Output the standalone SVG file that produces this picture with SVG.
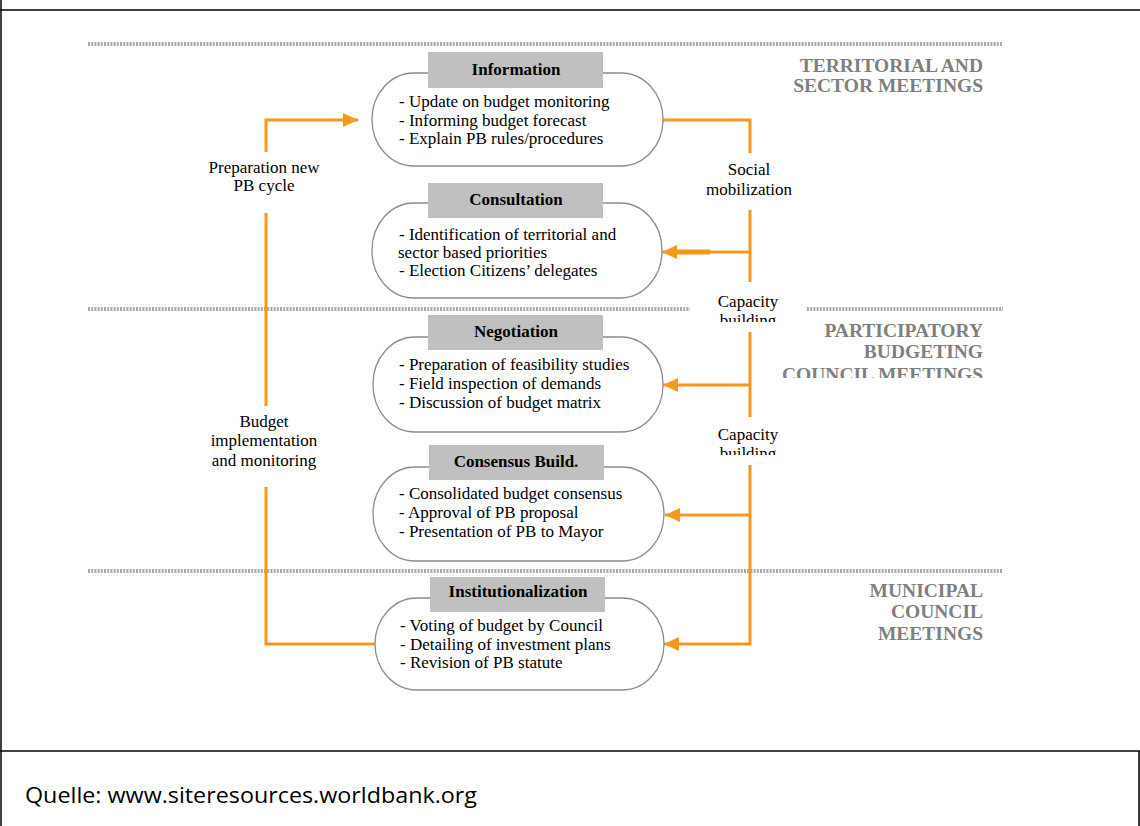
<svg xmlns="http://www.w3.org/2000/svg" width="1140" height="826" viewBox="0 0 1140 826">
<defs>
<style>
.frame{stroke:#000;stroke-width:1.5;fill:none}
.dots{stroke:#a8a8a8;stroke-width:4;stroke-dasharray:2 1.2;fill:none}
.pill{fill:#fff;stroke:#8c8c8c;stroke-width:1.3}
.hdr{fill:#c0c0c0}
.ht{font-family:"Liberation Serif",serif;font-weight:bold;font-size:17px;fill:#000;text-anchor:middle}
.bt{font-family:"Liberation Serif",serif;font-size:17px;fill:#000}
.lab{font-family:"Liberation Serif",serif;font-size:17px;fill:#000;text-anchor:middle}
.sec{font-family:"Liberation Serif",serif;font-weight:bold;font-size:19.5px;fill:#7f7f7f;text-anchor:end}
.con{stroke:#F7981D;stroke-width:3;fill:none}
.src{font-family:"Open Sans","Liberation Sans",sans-serif;font-size:22px;fill:#000}
</style>
<marker id="ah" markerWidth="16" markerHeight="14" refX="15" refY="7" orient="auto" markerUnits="userSpaceOnUse">
<path d="M0,0 L15,7 L0,14 Z" fill="#F7981D"/>
</marker>
<clipPath id="c1"><rect x="690" y="285" width="120" height="37"/></clipPath>
<clipPath id="c2"><rect x="690" y="420" width="120" height="35"/></clipPath>
<clipPath id="c3"><rect x="780" y="315" width="230" height="63"/></clipPath>
</defs>
<rect width="1140" height="826" fill="#fff"/>
<g id="frame">
<line class="frame" x1="0" y1="10" x2="1140" y2="10"/>
<line class="frame" x1="1" y1="0" x2="1" y2="826"/>
<line class="frame" x1="0" y1="751" x2="1140" y2="751"/>
<line class="frame" x1="1139" y1="751" x2="1139" y2="826"/>
</g>
<g id="dividers">
<line class="dots" x1="88" y1="44" x2="1003" y2="44"/>
<line class="dots" x1="88" y1="309" x2="690" y2="309"/>
<line class="dots" x1="807" y1="309" x2="1003" y2="309"/>
<line class="dots" x1="88" y1="571" x2="1003" y2="571"/>
</g>
<g id="sections">
<text class="sec" x="983" y="72">TERRITORIAL AND</text>
<text class="sec" x="983" y="92">SECTOR MEETINGS</text>
<text class="sec" x="983" y="337">PARTICIPATORY</text>
<text class="sec" x="983" y="358">BUDGETING</text>
<text class="sec" x="983" y="381" clip-path="url(#c3)">COUNCIL MEETINGS</text>
<text class="sec" x="983" y="597">MUNICIPAL</text>
<text class="sec" x="983" y="618">COUNCIL</text>
<text class="sec" x="983" y="640">MEETINGS</text>
</g>
<g id="connectors">
<polyline class="con" points="266,152 266,120 358,120" marker-end="url(#ah)"/>
<line class="con" x1="266" y1="213" x2="266" y2="406"/>
<polyline class="con" points="266,487 266,644 375,644"/>
<polyline class="con" points="663,120 750,120 750,153"/>
<line class="con" x1="750" y1="210" x2="750" y2="282"/>
<line class="con" x1="750" y1="252" x2="662" y2="252" marker-end="url(#ah)"/>
<rect x="670" y="249.5" width="40" height="5" fill="#F7981D"/>
<line class="con" x1="750" y1="332" x2="750" y2="417"/>
<line class="con" x1="750" y1="385" x2="663" y2="385" marker-end="url(#ah)"/>
<polyline class="con" points="750,465 750,644 664,644" marker-end="url(#ah)"/>
<line class="con" x1="750" y1="515" x2="665" y2="515" marker-end="url(#ah)"/>
</g>
<g id="connector-labels">
<text class="lab" x="264" y="173">Preparation new</text>
<text class="lab" x="264" y="191">PB cycle</text>
<text class="lab" x="264" y="427">Budget</text>
<text class="lab" x="264" y="446">implementation</text>
<text class="lab" x="264" y="466">and monitoring</text>
<text class="lab" x="749" y="175">Social</text>
<text class="lab" x="749" y="195">mobilization</text>
<g clip-path="url(#c1)">
<text class="lab" x="748" y="307">Capacity</text>
<text class="lab" x="748" y="326">building</text>
</g>
<g clip-path="url(#c2)">
<text class="lab" x="748" y="440">Capacity</text>
<text class="lab" x="748" y="459">building</text>
</g>
</g>
<g id="node-information">
<rect class="pill" x="372" y="73" width="291" height="93" rx="42" ry="46"/>
<rect class="hdr" x="428" y="52" width="175" height="36"/>
<text class="ht" x="516" y="75">Information</text>
<text class="bt" x="399" y="107">- Update on budget monitoring</text>
<text class="bt" x="399" y="126">- Informing budget forecast</text>
<text class="bt" x="399" y="144">- Explain PB rules/procedures</text>
</g>
<g id="node-consultation">
<rect class="pill" x="372" y="203" width="290" height="95" rx="42" ry="47"/>
<rect class="hdr" x="428" y="183" width="175" height="35"/>
<text class="ht" x="516" y="205">Consultation</text>
<text class="bt" x="399" y="240">- Identification of territorial and</text>
<text class="bt" x="398" y="258">sector based priorities</text>
<text class="bt" x="399" y="276">- Election Citizens’ delegates</text>
</g>
<g id="node-negotiation">
<rect class="pill" x="373" y="337" width="290" height="95" rx="42" ry="47"/>
<rect class="hdr" x="428" y="315" width="175" height="35"/>
<text class="ht" x="516" y="337">Negotiation</text>
<text class="bt" x="399" y="370">- Preparation of feasibility studies</text>
<text class="bt" x="399" y="389">- Field inspection of demands</text>
<text class="bt" x="399" y="408">- Discussion of budget matrix</text>
</g>
<g id="node-consensus">
<rect class="pill" x="373" y="467" width="291" height="94" rx="42" ry="47"/>
<rect class="hdr" x="429" y="445" width="175" height="35"/>
<text class="ht" x="516" y="467">Consensus Build.</text>
<text class="bt" x="399" y="499">- Consolidated budget consensus</text>
<text class="bt" x="399" y="518">- Approval of PB proposal</text>
<text class="bt" x="399" y="537">- Presentation of PB to Mayor</text>
</g>
<g id="node-institutionalization">
<rect class="pill" x="375" y="598" width="289" height="92" rx="42" ry="46"/>
<rect class="hdr" x="430" y="577" width="175" height="35"/>
<text class="ht" x="518" y="597">Institutionalization</text>
<text class="bt" x="400" y="631">- Voting of budget by Council</text>
<text class="bt" x="400" y="650">- Detailing of investment plans</text>
<text class="bt" x="400" y="668">- Revision of PB statute</text>
</g>
<g id="source">
<text class="src" x="25" y="803" textLength="452" lengthAdjust="spacingAndGlyphs">Quelle: www.siteresources.worldbank.org</text>
</g>
</svg>
